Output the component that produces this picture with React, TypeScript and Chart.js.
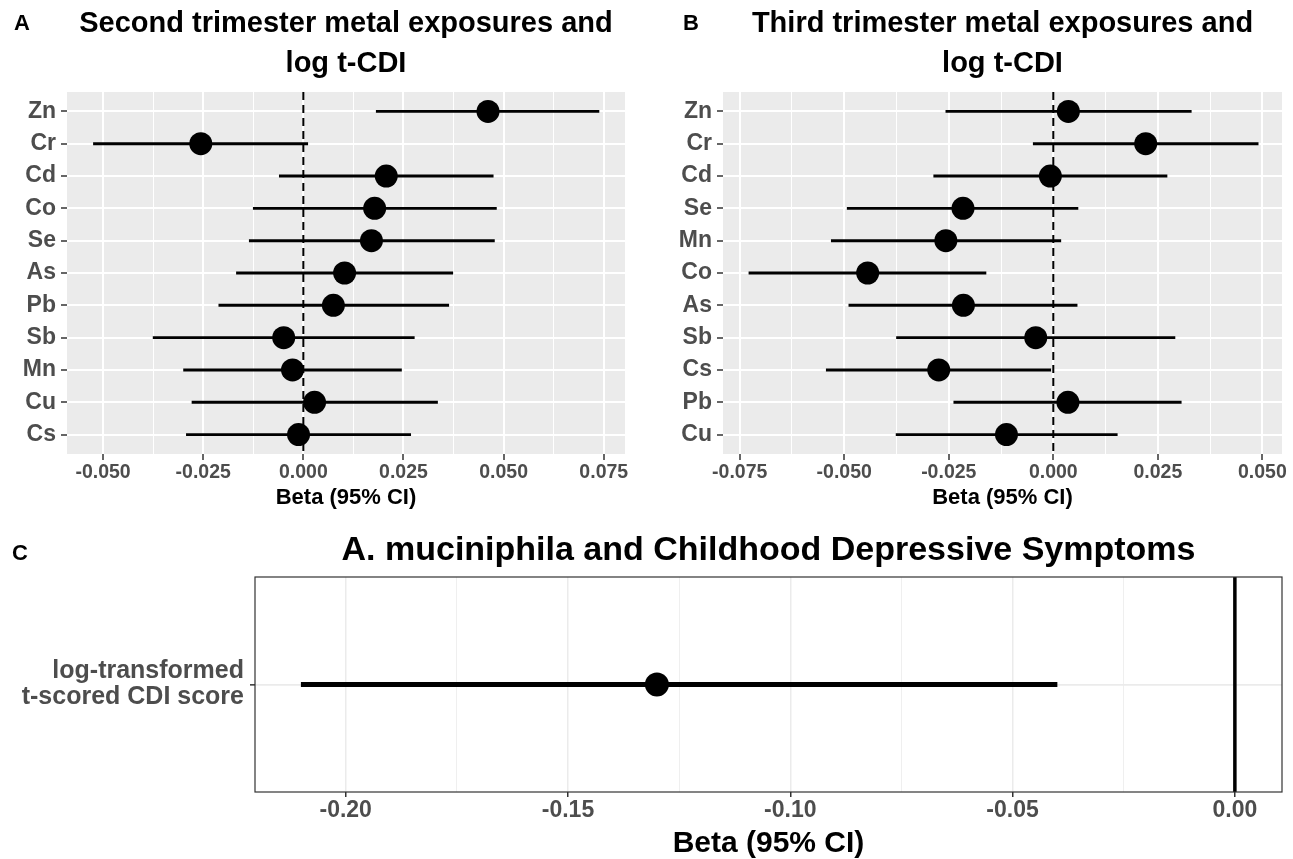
import React, { useEffect, useRef } from "react";
import { Chart, registerables } from "chart.js";

Chart.register(...registerables);

const FONT = "'Liberation Sans', Arial, Helvetica, sans-serif";
Chart.defaults.font.family = FONT;

// ---------------- data ----------------
// Panel A: second trimester (top to bottom)
const metalsA = ["Zn", "Cr", "Cd", "Co", "Se", "As", "Pb", "Sb", "Mn", "Cu", "Cs"];
const betaA = [0.0461, -0.0256, 0.0207, 0.0178, 0.017, 0.0103, 0.0075, -0.0049, -0.0027, 0.0028, -0.0012];
const lowerA = [0.0182, -0.0524, -0.006, -0.0125, -0.0135, -0.0167, -0.0211, -0.0375, -0.0299, -0.0278, -0.0292];
const upperA = [0.0738, 0.0011, 0.0474, 0.0482, 0.0477, 0.0373, 0.0363, 0.0277, 0.0245, 0.0335, 0.0268];
const xTicksA = [-0.05, -0.025, 0, 0.025, 0.05, 0.075];

// Panel B: third trimester (top to bottom)
const metalsB = ["Zn", "Cr", "Cd", "Se", "Mn", "Co", "As", "Sb", "Cs", "Pb", "Cu"];
const betaB = [0.0036, 0.0221, -0.0007, -0.0216, -0.0257, -0.0444, -0.0215, -0.0042, -0.0274, 0.0035, -0.0112];
const lowerB = [-0.0257, -0.0048, -0.0286, -0.0493, -0.0531, -0.0728, -0.0489, -0.0375, -0.0543, -0.0238, -0.0376];
const upperB = [0.033, 0.049, 0.0272, 0.0059, 0.0018, -0.0161, 0.0057, 0.0291, -0.0006, 0.0306, 0.0153];
const xTicksB = [-0.075, -0.05, -0.025, 0, 0.025, 0.05];

// Panel C: A. muciniphila
const outcomeC = [["log-transformed", "t-scored CDI score"]];
const betaC = [-0.13];
const lowerC = [-0.21];
const upperC = [-0.04];
const xTicksC = [-0.2, -0.15, -0.1, -0.05, 0];

const refLine = 0;
const titleA = ["Second trimester metal exposures and", "log t-CDI"];
const titleB = ["Third trimester metal exposures and", "log t-CDI"];
const titleC = "A. muciniphila and Childhood Depressive Symptoms";
const xTitle = "Beta (95% CI)";

// ---------------- helpers ----------------
const midpoints = (t: number[]) => t.slice(1).map((v, i) => (v + t[i]) / 2);
const isMajorOf = (majors: number[]) => (v: number) => majors.some((m) => Math.abs(m - v) < 1e-9);

const panelStyle = {
  id: "panelStyle",
  beforeDraw(chart: any, _a: any, opts: any) {
    const { ctx, chartArea: a } = chart;
    if (opts && opts.fill) {
      ctx.save();
      ctx.fillStyle = opts.fill;
      ctx.fillRect(a.left, a.top, a.right - a.left, a.bottom - a.top);
      ctx.restore();
    }
  },
  afterDraw(chart: any, _a: any, opts: any) {
    const { ctx, chartArea: a } = chart;
    if (opts && opts.border) {
      ctx.save();
      ctx.strokeStyle = opts.border;
      ctx.lineWidth = opts.borderWidth || 1;
      ctx.strokeRect(a.left, a.top, a.right - a.left, a.bottom - a.top);
      ctx.restore();
    }
  },
};

type Spec = {
  labels: any[];
  beta: number[];
  lower: number[];
  upper: number[];
  xTicks: number[];
  xMin: number;
  xMax: number;
  decimals: number;
  yMin: number;
  yMax: number;
  title: string | string[];
  titleSize: number;
  titleLH: string;
  titlePadTop: number;
  titlePadBottom: number;
  yAxisW: number;
  rightW: number;
  xAxisH: number;
  tickFont: number;
  yLabelFont: number;
  yLabelLH: string;
  xTitleSize: number;
  xTitleLH: string;
  xTitlePadBottom: number;
  tickLen: number;
  xTickPad: number;
  yTickPad: number;
  bg: string;
  grid: string;
  majorW: number;
  minorW: number;
  yGridW: number;
  border: string | null;
  pointR: number;
  barW: number;
  refW: number;
  refDash: number[];
};

function makeConfig(s: Spec): any {
  const rows = s.labels.map((_: any, i: number) => i);
  const minors = midpoints(s.xTicks);
  const allX = [...s.xTicks, ...minors].sort((a, b) => a - b);
  const isMajor = isMajorOf(s.xTicks);
  const tickColor = "#333333";
  return {
    type: "bar",
    data: {
      datasets: [
        {
          type: "scatter",
          label: "Beta",
          data: rows.map((i: number) => ({ x: s.beta[i], y: i })),
          pointRadius: s.pointR,
          pointHoverRadius: s.pointR,
          pointBackgroundColor: "#000000",
          pointBorderWidth: 0,
          borderColor: "#000000",
          showLine: false,
        },
        {
          type: "bar",
          label: "95% CI",
          data: rows.map((i: number) => ({ x: [s.lower[i], s.upper[i]], y: i })),
          backgroundColor: "#000000",
          borderWidth: 0,
          barThickness: s.barW,
          grouped: false,
        },
        {
          type: "line",
          label: "Reference",
          data: [
            { x: refLine, y: s.yMin },
            { x: refLine, y: s.yMax },
          ],
          borderColor: "#000000",
          borderWidth: s.refW,
          borderDash: s.refDash,
          pointRadius: 0,
          fill: false,
        },
      ],
    },
    options: {
      responsive: false,
      animation: false,
      events: [],
      indexAxis: "y",
      layout: { padding: 0 },
      plugins: {
        legend: { display: false },
        tooltip: { enabled: false },
        title: {
          display: true,
          text: s.title,
          color: "#000000",
          font: { family: FONT, size: s.titleSize, weight: "bold", lineHeight: s.titleLH },
          padding: { top: s.titlePadTop, bottom: s.titlePadBottom },
        },
        panelStyle: { fill: s.bg, border: s.border, borderWidth: 1.2 },
      },
      scales: {
        x: {
          type: "linear",
          position: "bottom",
          offset: false,
          min: s.xMin,
          max: s.xMax,
          afterBuildTicks: (sc: any) => {
            sc.ticks = allX.map((v) => ({ value: v }));
          },
          afterFit: (sc: any) => {
            sc.height = s.xAxisH;
          },
          ticks: {
            autoSkip: false,
            maxRotation: 0,
            color: "#4D4D4D",
            padding: s.xTickPad,
            font: { family: FONT, size: s.tickFont, weight: "bold", lineHeight: 1.2 },
            callback: (v: number) => (isMajor(v) ? Number(v).toFixed(s.decimals) : ""),
          },
          grid: {
            offset: false,
            color: s.grid,
            lineWidth: (c: any) => (c.tick && isMajor(c.tick.value) ? s.majorW : s.minorW),
            tickColor: (c: any) => (c.tick && isMajor(c.tick.value) ? tickColor : "rgba(0,0,0,0)"),
            tickLength: s.tickLen,
            tickWidth: 1.5,
            drawTicks: true,
          },
          border: { display: false },
          title: {
            display: true,
            text: xTitle,
            color: "#000000",
            font: { family: FONT, size: s.xTitleSize, weight: "bold", lineHeight: s.xTitleLH },
            padding: { top: 0, bottom: s.xTitlePadBottom },
          },
        },
        y: {
          type: "linear",
          position: "left",
          offset: false,
          reverse: true,
          min: s.yMin,
          max: s.yMax,
          afterBuildTicks: (sc: any) => {
            sc.ticks = rows.map((i: number) => ({ value: i }));
          },
          afterFit: (sc: any) => {
            sc.width = s.yAxisW;
          },
          ticks: {
            autoSkip: false,
            color: "#4D4D4D",
            padding: s.yTickPad,
            font: { family: FONT, size: s.yLabelFont, weight: "bold", lineHeight: s.yLabelLH },
            callback: (v: number) => s.labels[Math.round(v)],
          },
          grid: {
            offset: false,
            color: s.grid,
            lineWidth: s.yGridW,
            tickColor: tickColor,
            tickLength: s.tickLen,
            tickWidth: 1.5,
            drawTicks: true,
          },
          border: { display: false },
        },
        yRight: {
          type: "linear",
          position: "right",
          display: true,
          offset: false,
          grid: { display: false, drawTicks: false },
          ticks: { display: false },
          border: { display: false },
          afterFit: (sc: any) => {
            sc.width = s.rightW;
          },
        },
      },
    },
    plugins: [panelStyle],
  };
}

const greyTheme = {
  bg: "#EBEBEB",
  grid: "#FFFFFF",
  majorW: 2,
  minorW: 1,
  yGridW: 2,
  border: null,
  pointR: 11.5,
  barW: 2.3,
  refW: 2,
  refDash: [8, 5],
};

const specA: Spec = {
  ...greyTheme,
  labels: metalsA,
  beta: betaA,
  lower: lowerA,
  upper: upperA,
  xTicks: xTicksA,
  xMin: -0.059,
  xMax: 0.0803,
  decimals: 3,
  yMin: -0.6,
  yMax: metalsA.length - 1 + 0.6,
  title: titleA,
  titleSize: 29,
  titleLH: "40px",
  titlePadTop: 3.5,
  titlePadBottom: 8.5,
  yAxisW: 67,
  rightW: 67,
  xAxisH: 66,
  tickFont: 19.5,
  yLabelFont: 23,
  yLabelLH: "26px",
  xTitleSize: 22,
  xTitleLH: "26px",
  xTitlePadBottom: 9,
  tickLen: 6,
  xTickPad: 1,
  yTickPad: 5,
};

const specB: Spec = {
  ...specA,
  labels: metalsB,
  beta: betaB,
  lower: lowerB,
  upper: upperB,
  xTicks: xTicksB,
  xMin: -0.079,
  xMax: 0.0547,
  yMax: metalsB.length - 1 + 0.6,
  title: titleB,
  yAxisW: 83,
  rightW: 83,
};

const specC: Spec = {
  labels: outcomeC,
  beta: betaC,
  lower: lowerC,
  upper: upperC,
  xTicks: xTicksC,
  xMin: -0.2204,
  xMax: 0.0106,
  decimals: 2,
  yMin: -1,
  yMax: 1,
  title: titleC,
  titleSize: 34,
  titleLH: "38px",
  titlePadTop: 12,
  titlePadBottom: 7,
  yAxisW: 255,
  rightW: 255,
  xAxisH: 67,
  tickFont: 23,
  yLabelFont: 25,
  yLabelLH: "26px",
  xTitleSize: 30,
  xTitleLH: "30px",
  xTitlePadBottom: 0,
  tickLen: 5,
  xTickPad: 0,
  yTickPad: 6,
  bg: "#FFFFFF",
  grid: "#EBEBEB",
  majorW: 1.5,
  minorW: 0.8,
  yGridW: 1.7,
  border: "#333333",
  pointR: 12,
  barW: 4.3,
  refW: 3.5,
  refDash: [],
};

function ChartCanvas(props: { spec: Spec; left: number; top: number; width: number; height: number }) {
  const ref = useRef<HTMLCanvasElement | null>(null);
  useEffect(() => {
    if (!ref.current) return;
    const chart = new Chart(ref.current, makeConfig(props.spec));
    return () => chart.destroy();
  }, []);
  return (
    <canvas
      ref={ref}
      width={props.width}
      height={props.height}
      style={{ position: "absolute", left: props.left, top: props.top, width: props.width, height: props.height }}
    />
  );
}

const letterStyle = (left: number, top: number): React.CSSProperties => ({
  position: "absolute",
  left,
  top,
  fontFamily: FONT,
  fontWeight: "bold",
  fontSize: 22,
  lineHeight: "22px",
  color: "#000000",
});

export default function App() {
  return (
    <div
      style={{
        position: "fixed",
        left: 0,
        top: 0,
        width: 1293,
        height: 859,
        overflow: "hidden",
        background: "#FFFFFF",
      }}
    >
      <ChartCanvas spec={specA} left={0} top={0} width={692} height={520} />
      <ChartCanvas spec={specB} left={640} top={0} width={725} height={520} />
      <ChartCanvas spec={specC} left={0} top={520} width={1537} height={339} />
      <div style={letterStyle(14, 12)}>A</div>
      <div style={letterStyle(683, 12)}>B</div>
      <div style={letterStyle(12, 542)}>C</div>
    </div>
  );
}
